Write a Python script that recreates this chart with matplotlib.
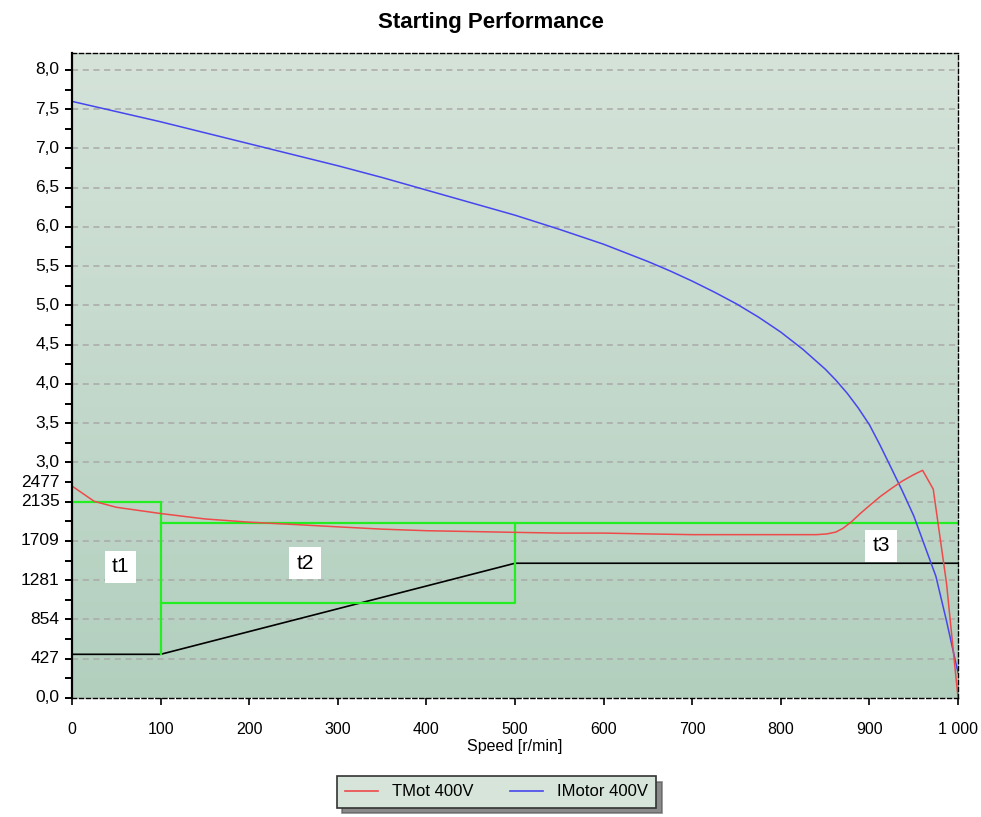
import numpy as np
import matplotlib
matplotlib.use('Agg')
import matplotlib.pyplot as plt
from matplotlib import transforms

plt.rcParams['font.family'] = ['Liberation Sans', 'DejaVu Sans']

# speed axis [r/min]
speed_i = [0, 50, 100, 150, 200, 250, 300, 350, 400, 450, 500, 550, 600,
           625, 650, 675, 700, 725, 750, 775, 800, 825, 850, 862, 875, 887,
           900, 912, 925, 937, 950, 962, 975, 987, 1000]
# motor current, per unit
current = [7.60, 7.47, 7.34, 7.20, 7.06, 6.92, 6.78, 6.63, 6.47, 6.31, 6.15,
           5.97, 5.78, 5.67, 5.56, 5.44, 5.31, 5.17, 5.02, 4.85, 4.66, 4.44,
           4.19, 4.05, 3.88, 3.70, 3.48, 3.22, 2.92, 2.64, 2.32, 1.95, 1.55,
           0.98, 0.32]

speed_t = [0, 25, 50, 100, 150, 200, 250, 300, 350, 400, 450, 500, 550, 600,
           650, 700, 750, 800, 840, 852, 862, 870, 880, 890, 900, 912, 925,
           937, 950, 960, 972, 987, 1000]
# motor torque [Nm]
torque = [2306, 2140, 2075, 2007, 1948, 1913, 1888, 1862, 1837, 1820, 1811,
          1802, 1794, 1794, 1785, 1777, 1777, 1777, 1777, 1785, 1805, 1845,
          1920, 2010, 2093, 2190, 2281, 2360, 2430, 2477, 2272, 1247, 0]

T_NOM = 854.2  # torque equal to 1.0 on the left scale

# load torque and the green timing envelopes [Nm]
load_x = [0, 100, 500, 1000]
load_t = [475, 475, 1466, 1466]
t1_x = [0, 100, 100]
t1_t = [2135, 2135, 475]
t2_x = [100, 500, 500]
t2_t = [1030, 1030, 1900]
t3_x = [100, 1000]
t3_t = [1900, 1900]

torque_labels = [427, 854, 1281, 1709, 2135]
current_labels = [3.0, 3.5, 4.0, 4.5, 5.0, 5.5, 6.0, 6.5, 7.0, 7.5, 8.0]

fig = plt.figure(figsize=(9.81, 8.17), dpi=100)
ax = fig.add_axes([0.0734, 0.1457, 0.9032, 0.7898])
ymax = 8.22
ax.set_xlim(0, 1000)
ax.set_ylim(0, ymax)

# background gradient
grad = np.linspace(0, 1, 256).reshape(-1, 1)
top = np.array([213, 227, 217]) / 255
bot = np.array([178, 207, 190]) / 255
img = top + (bot - top) * grad[:, :, None]
ax.imshow(img, extent=[0, 1000, 0, ymax], aspect='auto', zorder=0, origin='upper')

for v in np.arange(0.5, 8.01, 0.5):
    ax.axhline(v, color='#a9a9a9', lw=1.1, ls=(0, (4, 3)), zorder=1)

def tq(vals):
    return np.array(vals) / T_NOM

ax.plot(load_x, tq(load_t), color='black', lw=1.2, zorder=3)
for xs, ts in [(t1_x, t1_t), (t2_x, t2_t), (t3_x, t3_t)]:
    ax.plot(xs, tq(ts), color='#22ee22', lw=1.6, zorder=3)
ax.plot(speed_i, current, color='#4646ee', lw=1.1, zorder=4)
ax.plot(speed_t, tq(torque), color='#ee4a4a', lw=1.1, zorder=4)

box = dict(facecolor='white', edgecolor='none', pad=5)
ax.text(55, 1426 / T_NOM, 't1', fontsize=15, ha='center', va='center', bbox=box, zorder=5)
ax.text(263, 1468 / T_NOM, 't2', fontsize=15, ha='center', va='center', bbox=box, zorder=5)
ax.text(913, 1654 / T_NOM, 't3', fontsize=15, ha='center', va='center', bbox=box, zorder=5)

# frame
for side in ['top', 'right', 'bottom']:
    ax.spines[side].set_linestyle((0, (3, 2)))
    ax.spines[side].set_linewidth(1.0)
ax.spines['left'].set_linewidth(1.6)
for s in ax.spines.values():
    s.set_zorder(6)

ax.set_xticks(range(0, 1001, 100))
ax.set_xticklabels([str(x) for x in range(0, 1000, 100)] + ['1 000'], fontsize=11.5)
ax.tick_params(axis='x', direction='out', length=5, width=1.2, pad=12)
ax.set_xlabel('Speed [r/min]', fontsize=11.5, labelpad=2)

ax.set_yticks(np.arange(0, 8.01, 0.5))
ax.set_yticks(np.arange(0.25, 8.2, 0.5), minor=True)
ax.set_yticklabels([])
ax.tick_params(axis='y', which='both', direction='out', length=5, width=1.4)

trans = transforms.blended_transform_factory(ax.transAxes, ax.transData)
lab_kw = dict(transform=trans, ha='right', va='center', fontsize=12.5)
ax.text(-0.014, 0.0, '0,0', **lab_kw)
for v in current_labels:
    ax.text(-0.014, v, f'{v:.1f}'.replace('.', ','), **lab_kw)
for t in torque_labels:
    ax.text(-0.014, t / T_NOM, str(t), **lab_kw)
ax.text(-0.014, max(torque) / T_NOM - 0.16, str(max(torque)), **lab_kw)

fig.suptitle('Starting Performance', fontsize=16, fontweight='bold', y=0.985)

handles = [plt.Line2D([], [], color='#ee4a4a', lw=1.2),
           plt.Line2D([], [], color='#4646ee', lw=1.2)]
leg = fig.legend(handles, ['TMot 400V', 'IMotor 400V'], loc='center',
                 bbox_to_anchor=(0.506, 0.0306), ncol=2, fontsize=12,
                 frameon=True, fancybox=False, edgecolor='#333333',
                 facecolor='#d6e4da', framealpha=1, columnspacing=2.2,
                 handlelength=2.0, borderpad=0.5,
                 shadow={'color': '0.35', 'alpha': 0.7, 'ox': 4, 'oy': -4})
leg.get_frame().set_linewidth(1.2)

fig.savefig('out.png', dpi=100)
